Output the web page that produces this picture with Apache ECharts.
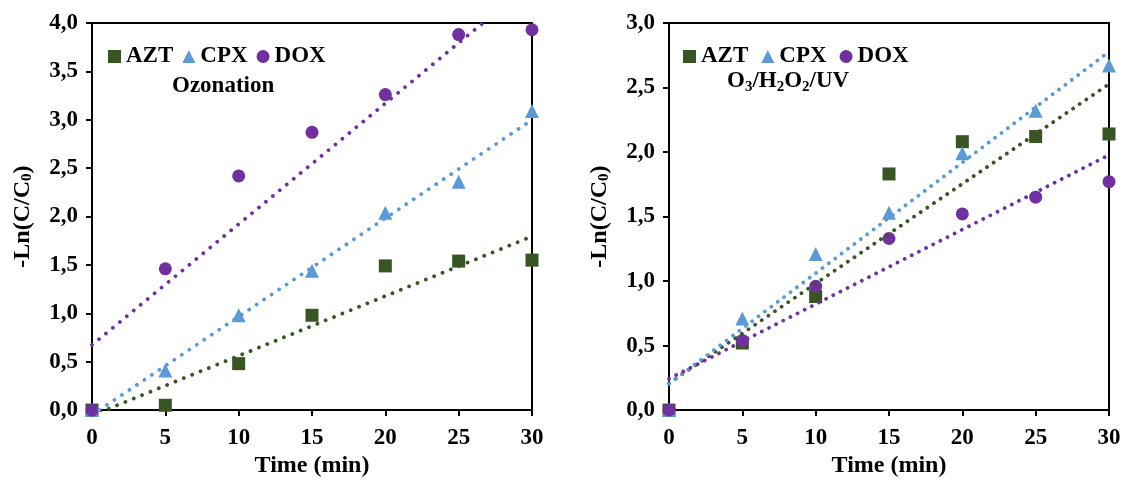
<!DOCTYPE html>
<html><head><meta charset="utf-8">
<script src="https://cdn.jsdelivr.net/npm/echarts@6/dist/echarts.min.js"></script>
<style>html,body{margin:0;padding:0;background:#fff}#c{width:1128px;height:483px}</style>
</head><body><div id="c"></div>
<script>
const times = [0, 5, 10, 15, 20, 25, 30];
const seriesNames = ['AZT', 'CPX', 'DOX'];
// Ozonation panel
const ozoAZT = [0, 0.05, 0.48, 0.98, 1.49, 1.54, 1.55];
const ozoCPX = [0, 0.41, 0.98, 1.44, 2.04, 2.36, 3.09];
const ozoDOX = [0, 1.46, 2.42, 2.87, 3.26, 3.88, 3.93];
// O3/H2O2/UV panel
const uvAZT = [0, 0.52, 0.88, 1.83, 2.08, 2.12, 2.14];
const uvCPX = [0, 0.71, 1.21, 1.53, 1.99, 2.32, 2.67];
const uvDOX = [0, 0.54, 0.96, 1.33, 1.52, 1.65, 1.77];
const xTicks = [0, 30, 5];
const yLeft = [0, 4, 0.5];
const yRight = [0, 3, 0.5];

const colors = {AZT: '#375623', CPX: '#5B9BD5', DOX: '#7030A0'};
const symbols = {AZT: 'rect', CPX: 'triangle', DOX: 'circle'};
const symSizes = {AZT: 13, CPX: 14, DOX: 13};
const dotGaps = [9, 8];
const FONT = 'Liberation Serif';

function regress(xs, ys) {
  const n = xs.length;
  const mx = xs.reduce((a, b) => a + b, 0) / n;
  const my = ys.reduce((a, b) => a + b, 0) / n;
  let sxy = 0, sxx = 0;
  for (let i = 0; i < n; i++) { sxy += (xs[i] - mx) * (ys[i] - my); sxx += (xs[i] - mx) ** 2; }
  const m = sxy / sxx;
  return [m, my - m * mx];
}

const panels = [
  {AZT: ozoAZT, CPX: ozoCPX, DOX: ozoDOX},
  {AZT: uvAZT, CPX: uvCPX, DOX: uvDOX}
];

const series = [];
panels.forEach((p, gi) => {
  seriesNames.forEach(name => {
    const ys = p[name];
    const [m, b] = regress(times, ys);
    const x0 = times[0], x1 = times[times.length - 1];
    series.push({
      name: name + ' trend', type: 'line', xAxisIndex: gi, yAxisIndex: gi,
      data: [[x0, m * x0 + b], [x1, m * x1 + b]], showSymbol: false, symbol: 'none',
      silent: true, z: 5, clip: true,
      lineStyle: {color: colors[name], width: 3.8, type: [0.01, dotGaps[gi]], cap: 'round'}
    });
    series.push({
      name: name, type: 'scatter', xAxisIndex: gi, yAxisIndex: gi,
      data: times.map((t, i) => [t, ys[i]]),
      symbol: symbols[name], symbolSize: symSizes[name],
      itemStyle: {color: colors[name], opacity: 1}, z: 3
    });
  });
});

function xAxis(gi) {
  return {
    type: 'value', gridIndex: gi, min: xTicks[0], max: xTicks[1], interval: xTicks[2],
    name: 'Time (min)', nameLocation: 'middle', nameGap: 39,
    nameTextStyle: {fontFamily: FONT, fontWeight: 'bold', fontSize: 24, color: '#000'},
    axisLine: {show: true, onZero: false, lineStyle: {color: '#000', width: 2}},
    axisTick: {show: true, inside: false, length: 6, lineStyle: {color: '#000', width: 2}},
    axisLabel: {fontFamily: FONT, fontWeight: 'bold', fontSize: 23, color: '#000', margin: 16},
    splitLine: {show: false}
  };
}
function yAxis(gi, rng) {
  return {
    type: 'value', gridIndex: gi, min: rng[0], max: rng[1], interval: rng[2],
    name: '-Ln(C/C{sub|0})', nameLocation: 'middle', nameGap: 57, nameRotate: 90,
    nameTextStyle: {fontFamily: FONT, fontWeight: 'bold', fontSize: 24, color: '#000',
      rich: {sub: {fontFamily: FONT, fontWeight: 'bold', fontSize: 15, color: '#000', padding: [10, 0, 0, 0]}}},
    axisLine: {show: true, lineStyle: {color: '#000', width: 2}},
    axisTick: {show: true, inside: false, length: 6, lineStyle: {color: '#000', width: 2}},
    axisLabel: {fontFamily: FONT, fontWeight: 'bold', fontSize: 23, color: '#000', margin: 14,
      formatter: v => v.toFixed(1).replace('.', ',')},
    splitLine: {show: false}
  };
}

const legendText = {fontFamily: FONT, fontWeight: 'bold', fontSize: 23, color: '#000'};
const option = {
  backgroundColor: '#fff',
  animation: false,
  grid: [
    {left: 92, right: 596, top: 23, bottom: 68, show: true, borderColor: '#000', borderWidth: 2, backgroundColor: 'transparent'},
    {left: 669, right: 19, top: 23, bottom: 68, show: true, borderColor: '#000', borderWidth: 2, backgroundColor: 'transparent'}
  ],
  xAxis: [xAxis(0), xAxis(1)],
  yAxis: [yAxis(0, yLeft), yAxis(1, yRight)],
  legend: [
    {left: 103, top: 40, itemWidth: 13, itemHeight: 13, itemGap: 9, textStyle: legendText,
      data: seriesNames.map(n => ({name: n, icon: symbols[n], itemStyle: {color: colors[n]}})),
      selectedMode: false},
    {left: 678, top: 40, itemWidth: 13, itemHeight: 13, itemGap: 13, textStyle: legendText,
      data: seriesNames.map(n => ({name: n, icon: symbols[n], itemStyle: {color: colors[n]}})),
      selectedMode: false}
  ],
  graphic: [
    {type: 'text', left: 172, top: 75, style: {text: 'Ozonation', font: 'bold 23px "Liberation Serif"', fill: '#000'}},
    {type: 'text', left: 727, top: 70, style: {text: 'O{s|3}/H{s|2}O{s|2}/UV', font: 'bold 23px "Liberation Serif"', fill: '#000',
      rich: {s: {font: 'bold 15px "Liberation Serif"', fill: '#000', padding: [12, 0, 0, 0]}}}}
  ],
  series: series
};
const chart = echarts.init(document.getElementById('c'), null, {renderer: 'canvas'});
chart.setOption(option);
</script></body></html>
